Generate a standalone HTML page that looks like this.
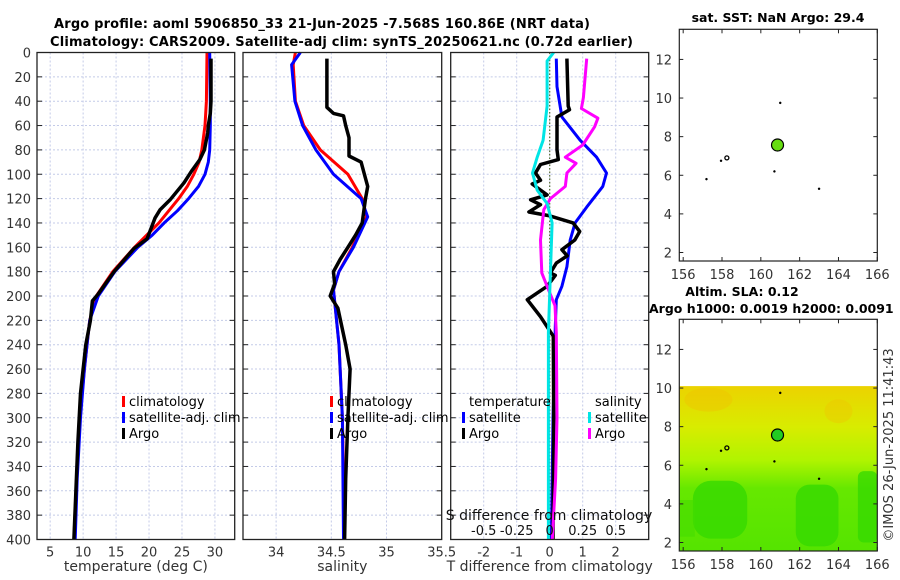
<!DOCTYPE html>
<html><head><meta charset="utf-8">
<style>
html,body{margin:0;padding:0;background:#fff;}
svg{display:block;font-family:"DejaVu Sans","Liberation Sans",sans-serif;}
.tk{font-size:13px;fill:#333;}
.ttl{font-size:13px;font-weight:bold;fill:#000;}
.lg{font-size:13px;fill:#000;}
</style></head>
<body>
<svg id="fig" width="900" height="580" viewBox="0 0 900 580">
<text class="ttl" x="54" y="28" textLength="536">Argo profile: aoml 5906850_33 21-Jun-2025 -7.568S 160.86E (NRT data)</text>
<text class="ttl" x="50" y="46" textLength="583">Climatology: CARS2009. Satellite-adj clim: synTS_20250621.nc (0.72d earlier)</text>
<g id="root"></g>
</svg>
<script>
// ---- data ----
const argoTDepth=[5,40,50,60,66,80,88,97,107,121,129,136,153,161,180,199,204,220,240,280,320,360,400];
const argoT=[29.4,29.4,29.3,29.0,28.9,28.4,27.7,26.5,25.3,23.2,21.7,20.9,19.7,17.7,14.7,12.2,11.4,11.1,10.4,9.6,9.2,8.9,8.6];
const climTDepth=[0,40,60,80,90,100,110,120,140,160,180,200,220,260,300,350,400];
const climT=[28.8,28.7,28.5,28.0,27.6,26.8,25.8,24.5,21.5,17.8,14.5,12.0,11.0,10.2,9.5,9.0,8.6];
const satTDepth=[0,40,60,80,90,100,110,120,130,140,150,160,180,200,220,260,300,350,400];
const satT=[29.2,29.3,29.3,29.2,29.0,28.5,27.5,26.0,24.3,22.3,20.5,18.3,14.8,12.3,11.0,10.2,9.6,9.1,8.8];
const climSDepth=[0,10,40,60,80,100,120,135,160,180,195,240,300,400];
const climS=[34.175,34.155,34.175,34.25,34.40,34.65,34.78,34.82,34.69,34.57,34.52,34.57,34.60,34.62];
const satS=[34.22,34.14,34.17,34.24,34.36,34.52,34.77,34.83,34.70,34.57,34.52,34.57,34.60,34.61];
const argoSDepth=[5,45,50,52,60,70,85,90,100,110,120,140,150,160,170,180,190,200,210,240,260,300,350,400];
const argoS=[34.46,34.46,34.52,34.61,34.63,34.66,34.66,34.77,34.80,34.83,34.81,34.78,34.72,34.65,34.58,34.52,34.53,34.49,34.56,34.63,34.67,34.65,34.63,34.62];
const dTsatDepth=[5,28,53,72,86,99,110,127,140,154,176,192,203,225,300,400];
const dTsat=[0.2,0.22,0.37,0.92,1.42,1.72,1.61,1.12,0.77,0.62,0.52,0.37,0.2,0.17,0.1,0.05];
const dTargoDepth=[5,44,47,53,80,88,92,99,105,108,117,121,125,131,134,140,147,154,162,167,173,181,183,192,203,217,233,300,400];
const dTargo=[0.52,0.56,0.6,0.22,0.22,0.26,-0.28,-0.43,-0.28,-0.53,-0.08,-0.58,-0.28,-0.63,-0.03,0.71,0.91,0.76,0.37,0.53,0.2,0.02,0.17,-0.08,-0.68,-0.28,0.11,0.12,0.1];
const dSargoDepth=[5,37,46,54,61,76,86,91,99,110,120,129,154,181,192,208,230,300,350,400];
const dSargo=[0.28,0.255,0.24,0.365,0.34,0.25,0.118,0.2,0.13,0.118,0.005,-0.045,-0.07,-0.06,-0.02,0.04,0.05,0.055,0.045,0.02];
const dSsatDepth=[0,7,44,72,86,99,113,124,140,230,300,400];
const dSsat=[0.03,-0.02,-0.02,-0.05,-0.095,-0.13,-0.095,-0.02,0.018,-0.01,-0.01,-0.01];
const depthTicks=[0,20,40,60,80,100,120,140,160,180,200,220,240,260,280,300,320,340,360,380,400];
const tTicks=[5,10,15,20,25,30];
const sTicks=[34,34.5,35,35.5];
const sTickLabels=["34","34.5","35","35.5"];
const dTTicks=[-2,-1,0,1,2];
const dSTicks=[-0.5,-0.25,0,0.25,0.5];
const dSTickLabels=["-0.5","-0.25","0","0.25","0.5"];
const lonTicks=[156,158,160,162,164,166];
const latTicks=[2,4,6,8,10,12];
const argoLon=160.86, argoLat=7.568;
const islandLon=[161.0,158.25,157.95,157.2,160.7,163.0];
const islandLat=[9.75,6.9,6.75,5.8,6.2,5.3];

// ---- helpers ----
const NS="http://www.w3.org/2000/svg";
const root=document.getElementById('root');
function mk(tag,attrs,parent){const e=document.createElementNS(NS,tag);for(const k in attrs)e.setAttribute(k,attrs[k]);(parent||root).appendChild(e);return e;}
const Y0=52.5,Y1=539.5;
const yD=d=>Y0+(Y1-Y0)*d/400;
function lin(d0,d1,r0,r1){return v=>r0+(v-d0)*(r1-r0)/(d1-d0);}

function panel(name,x0,x1,xs,xTicks,xLabels,xTitle,showY){
  const g=mk('g',{});
  
  
  for(const d of depthTicks){ if(d>0&&d<400){const l=mk('line',{x1:x0,x2:x1,y1:yD(d),y2:yD(d),stroke:'#c4cbe8','stroke-width':1,'stroke-dasharray':'2,2'},g);}}
  xTicks.forEach((t,i)=>{const x=xs(t);
    if(x>x0+1&&x<x1-1){const l=mk('line',{x1:x,x2:x,y1:Y0,y2:Y1,stroke:'#c4cbe8','stroke-width':1,'stroke-dasharray':'2,2'},g);}
    if(xLabels){const tx=mk('text',{x:x,y:Y1+17,'text-anchor':'middle',class:'tk'},g);tx.textContent=xLabels[i];
      }
  });
  for(const d of depthTicks){const y=yD(d);
    mk('line',{x1:x0,x2:x0+5,y1:y,y2:y,stroke:'#222'},g);mk('line',{x1:x1-5,x2:x1,y1:y,y2:y,stroke:'#222'},g);
    if(showY){const tx=mk('text',{x:31,y:y+5,'text-anchor':'end',class:'tk'},g);tx.textContent=d;
      }}
  if(xTitle){const tx=mk('text',{x:(x0+x1)/2,y:571,'text-anchor':'middle',class:'tk',style:'font-size:14px'},g);tx.textContent=xTitle;
    }
  return g;
}
function series(g,name,xs,depths,vals,color,w){
  const pts=depths.map((d,i)=>xs(vals[i]).toFixed(1)+','+yD(d).toFixed(1)).join(' ');
  const p=mk('polyline',{points:pts,fill:'none',stroke:color,'stroke-width':w,'stroke-linejoin':'round'},g);
  
  
}
function frame(g,x0,x1){mk('rect',{x:x0,y:Y0,width:x1-x0,height:Y1-Y0,fill:'none',stroke:'#222','stroke-width':1.3},g);}
function legendEntry(g,x,y,color,label,name){
  if(color){mk('rect',{x:x,y:y-10,width:3,height:11,fill:color},g);}
  const t=mk('text',{x:x+7,y:y,class:'lg'},g);t.textContent=label;
  
  
}

// Panel 1 temperature
const xT=lin(3,33,37,234.7);
const g1=panel('temperature-panel',37,234.7,xT,tTicks,tTicks.map(String),'temperature (deg C)',true);
series(g1,'temp-climatology-line',xT,climTDepth,climT,'#ff0000',3);
series(g1,'temp-satellite-line',xT,satTDepth,satT,'#0000ff',3);
series(g1,'temp-argo-line',xT,argoTDepth,argoT,'#000',3.5);
frame(g1,37,234.7);
legendEntry(g1,122,406,'#ff0000','climatology','legend-climatology');
legendEntry(g1,122,422,'#0000ff','satellite-adj. clim','legend-satellite-adj');
legendEntry(g1,122,438,'#000','Argo','legend-argo');

// Panel 2 salinity
const xS=lin(33.7,35.5,243,441.7);
const g2=panel('salinity-panel',243,441.7,xS,sTicks,sTickLabels,'salinity',false);
series(g2,'sal-climatology-line',xS,climSDepth,climS,'#ff0000',3);
series(g2,'sal-satellite-line',xS,climSDepth,satS,'#0000ff',3);
series(g2,'sal-argo-line',xS,argoSDepth,argoS,'#000',3.5);
frame(g2,243,441.7);
legendEntry(g2,330,406,'#ff0000','climatology','legend-climatology-sal');
legendEntry(g2,330,422,'#0000ff','satellite-adj. clim','legend-satellite-adj-sal');
legendEntry(g2,330,438,'#000','Argo','legend-argo-sal');

// Panel 3 differences
const xdT=lin(-3,3,450.7,648.7);
const xdS=lin(-0.75,0.75,450.7,648.7);
const g3=panel('difference-panel',450.7,648.7,xdT,dTTicks,dTTicks.map(String),'T difference from climatology',false);
mk('line',{x1:xdT(0),x2:xdT(0),y1:Y0,y2:Y1,stroke:'#556b2f','stroke-width':1.2,'stroke-dasharray':'1.5,2'},g3);
series(g3,'dT-satellite-line',xdT,dTsatDepth,dTsat,'#0000ff',3);
series(g3,'dT-argo-line',xdT,dTargoDepth,dTargo,'#000',3.5);
series(g3,'dS-argo-line',xdS,dSargoDepth,dSargo,'#ff00ff',3);
series(g3,'dS-satellite-line',xdS,dSsatDepth,dSsat,'#00e5e5',3);
frame(g3,450.7,648.7);
const st=mk('text',{x:549,y:520,'text-anchor':'middle',class:'tk',style:'font-size:14px;fill:#111'},g3);st.textContent='S difference from climatology';

dSTicks.forEach((v,i)=>{const t=mk('text',{x:xdS(v),y:535,'text-anchor':'middle',class:'tk',style:'fill:#111'},g3);t.textContent=dSTickLabels[i];
  });
legendEntry(g3,462,406,null,'temperature','legend-temperature-header');
legendEntry(g3,462,422,'#0000ff','satellite','legend-t-satellite');
legendEntry(g3,462,438,'#000','Argo','legend-t-argo');
legendEntry(g3,588,406,null,'salinity','legend-salinity-header');
legendEntry(g3,588,422,'#00e5e5','satellite','legend-s-satellite');
legendEntry(g3,588,438,'#ff00ff','Argo','legend-s-argo');

// Maps
function map(name,top,bot,fillFn,dotColor){
  const x0=679.3,x1=877.3;
  const g=mk('g',{});
  
  
  const lonX=lin(155.8,166,x0,x1);
  const latY=lin(13.56,1.56,top,bot);
  if(fillFn)fillFn(g,lonX,latY,x0,x1,bot);
  mk('rect',{x:x0,y:top,width:x1-x0,height:bot-top,fill:'none',stroke:'#222','stroke-width':1.2},g);
  lonTicks.forEach(v=>{const x=lonX(v);mk('line',{x1:x,x2:x,y1:top,y2:top+4,stroke:'#222'},g);mk('line',{x1:x,x2:x,y1:bot-4,y2:bot,stroke:'#222'},g);
    const t=mk('text',{x:x,y:bot+18,'text-anchor':'middle',class:'tk'},g);t.textContent=v;
    });
  latTicks.forEach(v=>{const y=latY(v);mk('line',{x1:x0,x2:x0+4,y1:y,y2:y,stroke:'#222'},g);mk('line',{x1:x1-4,x2:x1,y1:y,y2:y,stroke:'#222'},g);
    const t=mk('text',{x:672,y:y+5,'text-anchor':'end',class:'tk'},g);t.textContent=v;
    });
  islandLon.forEach((lo,i)=>{const c=mk('circle',{cx:lonX(lo),cy:latY(islandLat[i]),r:i==1?2:1,fill:i==1?'none':'#000',stroke:'#000','stroke-width':i==1?1.3:0.5},g);
    });
  const c=mk('circle',{cx:lonX(argoLon),cy:latY(argoLat),r:6,fill:dotColor,stroke:'#000','stroke-width':1.2},g);
  
  return g;
}
const gm1=map('sst-map',29.3,261,null,'#66dd11');
const t1=mk('text',{x:778,y:22,'text-anchor':'middle',class:'ttl',style:'font-size:12.5px'},gm1);t1.textContent='sat. SST: NaN Argo: 29.4';


const gm2=map('sla-map',319.3,551,function(g,lonX,latY,x0,x1,bot){
  const defs=mk('defs',{},g);
  const lg=mk('linearGradient',{id:'slaG',x1:0,y1:0,x2:0,y2:1},defs);
  mk('stop',{offset:'0','stop-color':'#ecd200'},lg);
  mk('stop',{offset:'0.25','stop-color':'#d8ec00'},lg);
  mk('stop',{offset:'0.45','stop-color':'#b0f400'},lg);
  mk('stop',{offset:'0.62','stop-color':'#66e800'},lg);
  mk('stop',{offset:'1','stop-color':'#55e400'},lg);
  const y10=latY(10.1);
  mk('rect',{x:x0,y:y10,width:x1-x0,height:bot-y10,fill:'url(#slaG)'},g);
  mk('rect',{x:lonX(156.5),y:latY(5.2),width:lonX(159.3)-lonX(156.5),height:latY(2.2)-latY(5.2),rx:18,fill:'#33d800',opacity:0.75},g);
  mk('rect',{x:lonX(161.8),y:latY(5.0),width:lonX(164)-lonX(161.8),height:latY(1.8)-latY(5.0),rx:14,fill:'#33d800',opacity:0.75},g);
  mk('rect',{x:lonX(165),y:latY(5.7),width:lonX(166)-lonX(165),height:latY(2.0)-latY(5.7),rx:6,fill:'#33d800',opacity:0.75},g);
  mk('rect',{x:x0,y:latY(4.2),width:lonX(156.6)-x0,height:latY(2.3)-latY(4.2),fill:'#44dc00',opacity:0.6},g);
  mk('ellipse',{cx:lonX(157.3),cy:latY(9.4),rx:24,ry:12,fill:'#f0c000',opacity:0.4},g);
  mk('ellipse',{cx:lonX(164),cy:latY(8.8),rx:14,ry:12,fill:'#f0c000',opacity:0.35},g);
},'#22cc22');
const t2=mk('text',{x:742,y:296,'text-anchor':'middle',class:'ttl',style:'font-size:12.5px'},gm2);t2.textContent='Altim. SLA: 0.12';

const t3=mk('text',{x:649,y:313,class:'ttl',style:'font-size:12.5px'},gm2);t3.textContent='Argo h1000: 0.0019 h2000: 0.0091';

const cr=mk('text',{x:0,y:0,'text-anchor':'middle',class:'tk',transform:'translate(893,445) rotate(-90)'});cr.textContent='©IMOS 26-Jun-2025 11:41:43';

</script>
</body></html>
